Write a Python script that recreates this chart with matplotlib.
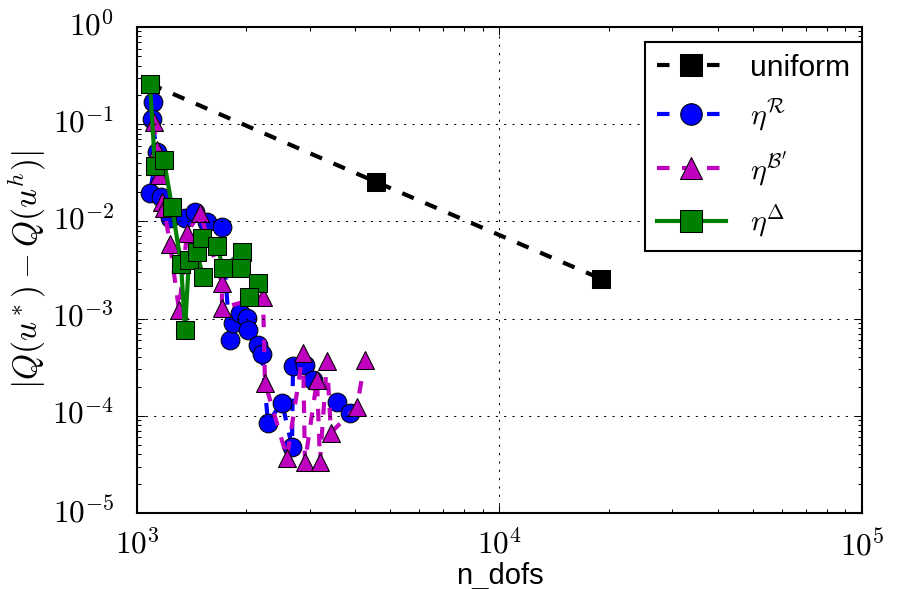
import matplotlib as mpl
mpl.use('Agg')
import matplotlib.pyplot as plt
from matplotlib.ticker import FuncFormatter
import numpy as np

plt.style.use('classic')
plt.rcParams['font.family'] = ['Liberation Sans', 'DejaVu Sans']
plt.rcParams['mathtext.fontset'] = 'cm'

# uniform refinement
uniform_dofs = [1086, 4563, 19050]
uniform_err = [0.26, 0.0255, 0.00257]

# eta^R
res_dofs = [1107, 1100, 1135, 1086, 1165, 1233, 1357, 1445, 1560, 1716,
            1805, 1840, 1923, 2011, 2024, 2157, 2212, 2298, 2512, 2677,
            2694, 2907, 3059, 3562, 3869]
res_err = [0.1695, 0.113, 0.052, 0.0197, 0.0179, 0.0109, 0.0109, 0.01255,
           0.0099, 0.0088, 0.000607, 0.000907, 0.00115, 0.00102, 0.000769,
           0.000539, 0.000436, 0.0000851, 0.000137, 0.0000482, 0.000328,
           0.000336, 0.000236, 0.000140, 0.000108]

# eta^B'
bnd_dofs = [1114, 1135, 1150, 1172, 1187, 1233, 1306, 1374, 1492, 1716,
            1716, 2227, 2255, 2593, 2871, 2907, 3138, 3198, 3343, 3429,
            4045, 4256]
bnd_err = [0.1056, 0.0544, 0.0301, 0.0159, 0.0138, 0.00589, 0.00123,
           0.00764, 0.01226, 0.00234, 0.00129, 0.00168, 0.000219, 0.0000372,
           0.000446, 0.0000331, 0.000236, 0.0000338, 0.000364, 0.0000672,
           0.000124, 0.000378]

# eta^Delta
dlt_dofs = [1086, 1121, 1187, 1249, 1323, 1357, 1391, 1521, 1464, 1511,
            1662, 1727, 1948, 1936, 2157, 2037]
dlt_err = [0.26, 0.0373, 0.043, 0.0141, 0.00367, 0.000769, 0.00403, 0.0027,
           0.00487, 0.00678, 0.00561, 0.00334, 0.00487, 0.00334, 0.00234,
           0.00168]


def pow10(v, pos):
    return r'$10^{%d}$' % int(round(np.log10(v)))


fig = plt.figure(figsize=(5.98, 3.927), dpi=150, facecolor='white')
ax = fig.add_axes([0.1527, 0.129, 0.8083, 0.825])

ax.loglog(uniform_dofs, uniform_err, 'k--s', lw=2, ms=9, label='uniform')
ax.loglog(res_dofs, res_err, 'b--o', lw=2, ms=9,
          label=r'$\eta^{\mathcal{R}}$')
ax.loglog(bnd_dofs, bnd_err, 'm--^', lw=2, ms=9,
          label=r"$\eta^{\mathcal{B}'}$")
ax.loglog(dlt_dofs, dlt_err, 'g-s', lw=2, ms=9,
          label=r'$\eta^{\Delta}$')

ax.set_xlim(1e3, 1e5)
ax.set_ylim(1e-5, 1e0)
ax.xaxis.set_major_formatter(FuncFormatter(pow10))
ax.yaxis.set_major_formatter(FuncFormatter(pow10))
ax.tick_params(axis='x', which='major', labelsize=15, pad=8)
ax.tick_params(axis='y', which='major', labelsize=15, pad=11)
ax.grid(True, which='major')
ax.set_xlabel('n_dofs', fontsize=14, labelpad=0)
ax.set_ylabel(r'$|Q(u^*) - Q(u^h)|$', fontsize=16, labelpad=2)
ax.legend(loc='upper right', numpoints=1, fontsize='large', markerscale=1.15,
          handlelength=2.3, bbox_to_anchor=(1.0, 0.97), borderaxespad=0.0)

fig.savefig('out.png', dpi=150, facecolor='white')
